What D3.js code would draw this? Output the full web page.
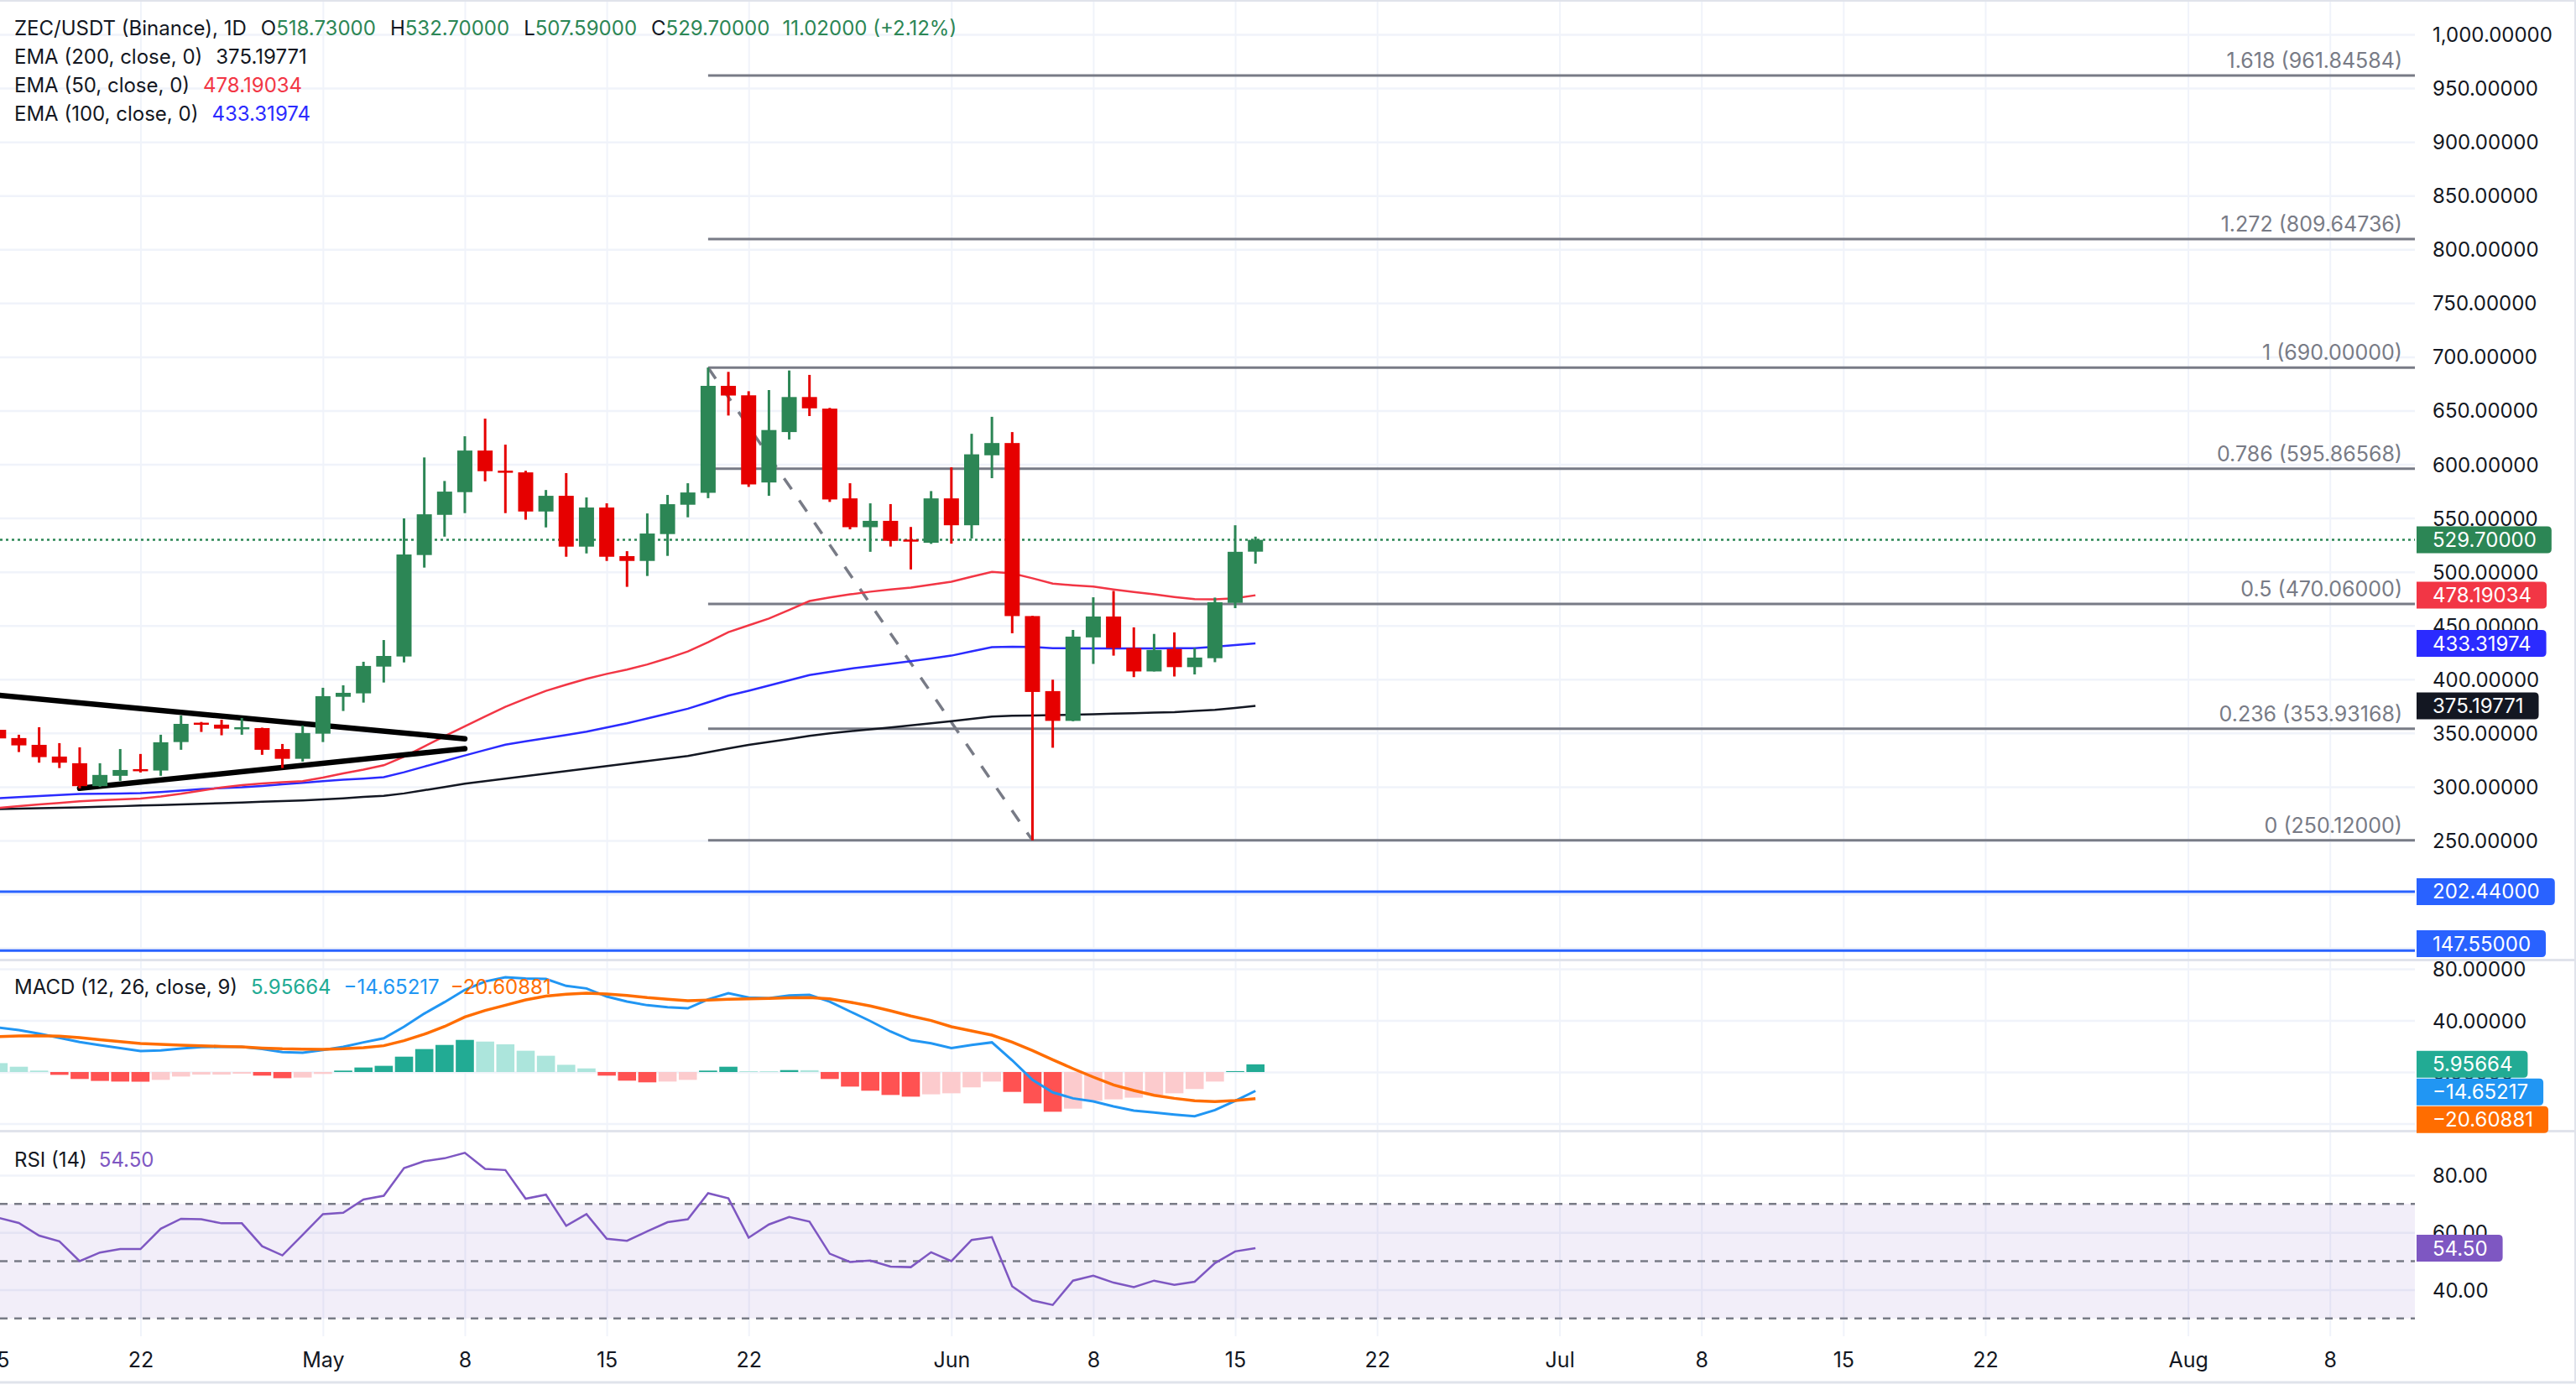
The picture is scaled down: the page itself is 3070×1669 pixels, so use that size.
<!DOCTYPE html>
<html>
<head>
<meta charset="utf-8">
<script src="https://cdn.jsdelivr.net/npm/d3@7"></script>
<style>
html, body { margin: 0; padding: 0; background: #fff; }
svg { display: block; font-family: Inter, "Noto Sans", sans-serif; }
</style>
</head>
<body>
<svg id="chart" width="3070" height="1669"></svg>
<script>
// ---- data ----
const dates = [
  '2025-04-15','2025-04-16','2025-04-17','2025-04-18','2025-04-19','2025-04-20','2025-04-21','2025-04-22','2025-04-23','2025-04-24',
  '2025-04-25','2025-04-26','2025-04-27','2025-04-28','2025-04-29','2025-04-30','2025-05-01','2025-05-02','2025-05-03','2025-05-04',
  '2025-05-05','2025-05-06','2025-05-07','2025-05-08','2025-05-09','2025-05-10','2025-05-11','2025-05-12','2025-05-13','2025-05-14',
  '2025-05-15','2025-05-16','2025-05-17','2025-05-18','2025-05-19','2025-05-20','2025-05-21','2025-05-22','2025-05-23','2025-05-24',
  '2025-05-25','2025-05-26','2025-05-27','2025-05-28','2025-05-29','2025-05-30','2025-05-31','2025-06-01','2025-06-02','2025-06-03',
  '2025-06-04','2025-06-05','2025-06-06','2025-06-07','2025-06-08','2025-06-09','2025-06-10','2025-06-11','2025-06-12','2025-06-13',
  '2025-06-14','2025-06-15','2025-06-16'
]
const opens = [
  353, 345.3, 339, 328.1, 321.9, 300.6, 310.2, 316.4, 315.1, 341.6,
  359.6, 357.8, 354.1, 354.6, 335.1, 326, 349.4, 383.7, 386.9, 411.8,
  421.2, 515.6, 553, 574.1, 612.8, 594.1, 592.5, 556.1, 570.7, 523.4,
  559.8, 514.6, 510.1, 535.1, 562.4, 573.5, 673, 664.2, 583.1, 630,
  662.6, 651.8, 568.3, 541.5, 547.4, 530, 527, 568.3, 543.3, 608.4,
  619.8, 458.8, 389, 361.3, 439, 458.4, 429.1, 407.3, 428.2, 411.3,
  419.6, 471.1, 518.73
]
const highs = [
  357, 348.4, 355.4, 340.6, 336.7, 321.9, 335.1, 330.5, 348.4, 366.3,
  360.3, 362.4, 364, 355, 339.8, 357, 392.1, 394.4, 416.3, 436.5,
  549.7, 606.4, 584.5, 626.1, 642.5, 618.3, 594, 576.1, 591.8, 569.2,
  563.7, 519.2, 554.3, 571.5, 582.4, 690, 686, 668, 669.1, 687.3,
  683.2, 652.5, 582.4, 563.7, 563, 541.7, 575.1, 597.2, 628.4, 644.2,
  630, 459, 399.6, 445.9, 476.3, 482.2, 448.3, 442.2, 443.6, 429,
  476, 543.3, 532.7
]
const lows = [
  340, 332.3, 322.4, 317.4, 298.5, 300, 305.5, 313.3, 310.2, 334.4,
  351, 347.9, 348.4, 329.7, 317.4, 323.4, 341.6, 370.5, 378.3, 397,
  415.7, 503.9, 532.7, 554.6, 584.2, 554.6, 548.5, 541.3, 514, 517.1,
  510.1, 486, 496.1, 514.8, 550.7, 568.5, 645.4, 579, 570.7, 623.1,
  644.9, 565, 539.5, 518.6, 523.5, 502.2, 526, 526.2, 531, 587.1,
  442.8, 250.12, 336.3, 361, 414.3, 422, 402, 407.3, 402.6, 404.5,
  415.9, 466.2, 507.59
]
const closes = [
  345, 338.5, 327.6, 322.4, 300.6, 311, 315.6, 314.9, 341.4, 358.5,
  358, 354.1, 355.4, 334.4, 326, 350, 384.3, 387.4, 412.4, 421.7,
  516.1, 553.5, 574.6, 612.8, 593.6, 592.3, 556.1, 570.7, 523.4, 559.8,
  514, 510.1, 535.6, 562.9, 573.8, 673, 664, 581.3, 631.9, 662.6,
  652.1, 567.3, 541.5, 547.4, 528.8, 528.8, 568.3, 543.3, 609.3, 619.8,
  458.8, 388.2, 361.3, 439.7, 458.4, 429.1, 407.3, 427.3, 411.3, 420.2,
  471.7, 518.6, 529.7
]
const ema50 = [
  280.3, 282, 283.5, 285, 286.5, 287.5, 288.3, 289, 291, 293.5,
  296.5, 299.3, 301.5, 303, 304.3, 305.2, 308.5, 312.5, 316, 320,
  328, 337.5, 347, 356.2, 365.5, 374.4, 382, 389.2, 395, 400.4,
  405, 409, 413.8, 419.5, 425.9, 434.5, 443.8, 450.2, 456.5, 464.5,
  472.8, 476.2, 479, 481.5, 483.5, 485.3, 488, 490.8, 495.5, 500,
  498.5, 494, 489, 487.5, 486.2, 483.5, 481.2, 479, 476.6, 474.5,
  474.3, 475.3, 478.19
]
const ema100 = [
  289.4, 290.4, 291.4, 292.4, 293.3, 293.5, 293.8, 294, 295, 296.4,
  297.8, 298.8, 299.5, 300.8, 302.3, 303.6, 305.2, 306.5, 307.6, 308.9,
  313.5, 318.8, 324, 329.1, 334.2, 339.2, 342.3, 345.2, 348.2, 351.3,
  355.2, 359.1, 363.5, 368, 372.6, 378.6, 384.8, 389.3, 394.2, 399.1,
  404, 406.9, 409.8, 412.2, 414.5, 416.8, 419.4, 422, 426, 429.8,
  430.3, 430, 428.9, 428.8, 428.8, 428.8, 428.8, 428.8, 428.9, 429,
  430.3, 431.8, 433.32
]
const ema200 = [
  279.2, 279.6, 280, 280.4, 280.9, 281.4, 281.9, 282.5, 283, 283.6,
  284.2, 284.8, 285.4, 286, 286.6, 287.3, 288.2, 289.3, 290.5, 291.6,
  293.8, 296.8, 299.8, 302.8, 305.2, 307.5, 309.9, 312.2, 314.6, 317,
  319.3, 321.6, 324, 326.2, 328.6, 332.2, 335.7, 338.9, 341.7, 344.5,
  347.4, 349.7, 351.6, 353.4, 355.2, 357.1, 359, 361, 363.2, 365.3,
  366, 366.3, 366.6, 367, 367.5, 368, 368.5, 369, 369.5, 370.5,
  371.6, 373.3, 375.2
]
const macdLine = [
  34.5, 32.5, 29.7, 26.5, 23.2, 20.8, 18.6, 16.3, 16.7, 18.2,
  19.3, 19.5, 19.5, 17.8, 15.4, 15, 17.1, 19.5, 23, 26.2,
  35.1, 45.3, 54.2, 63.7, 70.2, 73.5, 72.6, 72.2, 66.8, 64.8,
  58.5, 54.6, 51.8, 50.3, 49.4, 56.4, 61.1, 57.7, 57.2, 59.4,
  59.8, 54.6, 47, 39.5, 31.4, 24.7, 22.3, 18.6, 21, 23,
  9.1, -6.1, -15.8, -20.4, -22.8, -26.7, -29.9, -31.4, -33, -34.3,
  -29.5, -22.3, -14.65
]
const signalLine = [
  27.5, 28, 28.2, 27.8, 26.7, 25.1, 23.6, 22.1, 21.5, 20.8,
  20.4, 19.9, 19.5, 18.6, 18, 17.8, 17.6, 18, 18.9, 20.4,
  24.3, 29.3, 35.3, 42.7, 47.7, 51.8, 55.9, 58.8, 60.3, 61.1,
  60.5, 59.4, 57.7, 56.4, 55.3, 55.7, 56.4, 56.8, 57, 57.5,
  57.7, 56.8, 54.2, 51.2, 47.5, 43.4, 39.9, 35.1, 31.9, 28.6,
  23.2, 16.7, 9.5, 2.6, -3.9, -10, -14.3, -18, -20.4, -22.3,
  -23, -22.1, -20.61
]
const histogram = [
  6.9, 4.1, 1.1, -2.2, -5.4, -6.9, -7.4, -7.5, -6.1, -3.5,
  -2, -2, -1.3, -2.8, -4.8, -4.3, -1.5, 1.1, 3.5, 4.8,
  11.9, 17.8, 21, 24.9, 23.6, 21.5, 16.5, 12.6, 5.6, 2.8,
  -2.8, -6.7, -8, -7.4, -6.1, 1.1, 4.1, 0.65, 0.6, 1.5,
  1.4, -5.4, -11.3, -14.5, -17.8, -19.1, -17.3, -16.5, -11.9, -7.4,
  -15.4, -24.3, -30.8, -28.4, -22.3, -21.2, -19.9, -17.8, -16.5, -13.2,
  -7.4, 0.7, 5.96
]
const rsi = [
  65.1, 63.3, 58.9, 56.9, 50, 53, 54.2, 54.2, 61.3, 64.8,
  64.6, 63.2, 63.2, 55.2, 52, 59.2, 66.4, 66.9, 71.5, 72.8,
  82.5, 84.9, 85.9, 87.8, 82.2, 81.8, 71.8, 73.2, 62.3, 66.4,
  57.8, 57.1, 60.4, 63.6, 64.6, 73.7, 71.9, 58.2, 62.8, 65.4,
  63.8, 52.6, 49.7, 50.2, 48.1, 47.9, 53.1, 50, 57.4, 58.4,
  41.2, 36.3, 34.7, 43.2, 44.9, 42.5, 40.9, 43.2, 41.7, 42.8,
  49.3, 53.4, 54.5
]

const tickDates = ['2025-04-15','2025-04-22','2025-05-01','2025-05-08','2025-05-15','2025-05-22','2025-06-01','2025-06-08',
  '2025-06-15','2025-06-22','2025-07-01','2025-07-08','2025-07-15','2025-07-22','2025-08-01','2025-08-08']
const priceTicks = [150, 200, 250, 300, 350, 400, 450, 500, 550, 600, 650, 700, 750, 800, 850, 900, 950, 1000]
const macdTicks = [-40, 0, 40, 80]
const rsiTicks = [40, 60, 80]
const rsiBands = [30, 50, 70]

const fibLevels = ['0', '0.236', '0.5', '0.786', '1', '1.272', '1.618']
const fibPrices = [250.12, 353.93168, 470.06, 595.86568, 690, 809.64736, 961.84584]
const fibFrom = ['2025-05-20', 690]
const fibTo = ['2025-06-05', 250.12]
const trendUpper = [['2025-04-15', 385.1], ['2025-05-08', 344.7]]
const trendLower = [['2025-04-19', 298.5], ['2025-05-08', 335.4]]
const levelLines = [202.44, 147.55]
const lastPrice = 529.7

// ---- layout ----
const W = 3070
const plotW = 2878
const axisX = 2880
const main = [0, 1143]
const macdPane = [1146, 1347]
const rsiPane = [1350, 1593]

const col = {
  up: '#2c8655', down: '#e60000', grid: '#f0f3fa', sep: '#e0e3eb', text: '#131722', fib: '#787b86',
  e50: '#f23645', e100: '#2b2bff', e200: '#131722', level: '#2962ff',
  macd: '#2196f3', signal: '#ff6d00', hUp: '#22ab94', hUpL: '#ace5dc', hDn: '#ff5252', hDnL: '#fccbcd',
  rsi: '#7e57c2'
}

const parse = d3.utcParse('%Y-%m-%d')
const x = d3.scaleUtc().domain([parse('2025-04-15'), parse('2025-08-08')]).range([-1.7, 2776.7])
const yP = d3.scaleLinear().domain([250, 1000]).range([1002, 41])
const yM = d3.scaleLinear().domain([-40, 80]).range([1339.5, 1155])
const yR = d3.scaleLinear().domain([40, 80]).range([1537.6, 1401])

const bars = dates.map((d, i) => ({
  date: parse(d), o: opens[i], h: highs[i], l: lows[i], c: closes[i],
  e50: ema50[i], e100: ema100[i], e200: ema200[i],
  macd: macdLine[i], sig: signalLine[i], hist: histogram[i], rsi: rsi[i]
}))

const svg = d3.select('#chart')
svg.append('rect').attr('width', W).attr('height', 1669).attr('fill', '#fff')

const defs = svg.append('defs')
;[['clipMain', main], ['clipMacd', macdPane], ['clipRsi', rsiPane]].forEach(([id, p]) => {
  defs.append('clipPath').attr('id', id)
    .append('rect').attr('x', 0).attr('y', p[0]).attr('width', plotW).attr('height', p[1] - p[0])
})

// vertical grid in every pane
;[main, macdPane, rsiPane].forEach(p => {
  const g = svg.append('g').attr('transform', `translate(0,${p[0]})`)
    .call(d3.axisBottom(x).tickValues(tickDates.map(parse)).tickSize(p[1] - p[0]).tickFormat(''))
  g.select('.domain').remove()
  g.selectAll('line').attr('stroke', col.grid).attr('stroke-width', 2)
})

function hGrid(scale, ticks, clip) {
  const g = svg.append('g').attr('clip-path', `url(#${clip})`)
    .call(d3.axisLeft(scale).tickValues(ticks).tickSize(-plotW).tickFormat(''))
  g.select('.domain').remove()
  g.selectAll('line').attr('stroke', col.grid).attr('stroke-width', 2.5)
}
hGrid(yP, priceTicks, 'clipMain')
hGrid(yM, macdTicks, 'clipMacd')
hGrid(yR, rsiTicks, 'clipRsi')

// ---- main pane ----
const gMain = svg.append('g').attr('clip-path', 'url(#clipMain)')

// fibonacci levels
const fibX0 = x(parse(fibFrom[0]))
fibPrices.forEach((p, i) => {
  gMain.append('line')
    .attr('x1', fibX0).attr('x2', plotW)
    .attr('y1', yP(p)).attr('y2', yP(p))
    .attr('stroke', col.fib).attr('stroke-width', 3)
  gMain.append('text')
    .attr('x', plotW - 15).attr('y', yP(p) - 18)
    .attr('text-anchor', 'end').attr('dominant-baseline', 'central')
    .attr('font-size', 25).attr('fill', col.fib)
    .text(`${fibLevels[i]} (${d3.format('.5f')(p)})`)
})
gMain.append('line')
  .attr('x1', fibX0).attr('y1', yP(fibFrom[1]))
  .attr('x2', x(parse(fibTo[0]))).attr('y2', yP(fibTo[1]))
  .attr('stroke', col.fib).attr('stroke-width', 3.5).attr('stroke-dasharray', '16,16')

// horizontal levels
levelLines.forEach(v => {
  gMain.append('line')
    .attr('x1', 0).attr('x2', plotW).attr('y1', yP(v)).attr('y2', yP(v))
    .attr('stroke', col.level).attr('stroke-width', 3)
})
gMain.append('line')
  .attr('x1', 0).attr('x2', plotW).attr('y1', yP(lastPrice)).attr('y2', yP(lastPrice))
  .attr('stroke', col.up).attr('stroke-width', 2.5).attr('stroke-dasharray', '3,4')

// EMAs
;[['e200', col.e200], ['e100', col.e100], ['e50', col.e50]].forEach(([k, c]) => {
  gMain.append('path')
    .datum(bars)
    .attr('fill', 'none').attr('stroke', c).attr('stroke-width', 2.5)
    .attr('d', d3.line().x(d => x(d.date)).y(d => yP(d[k])))
})

// trendlines
;[trendUpper, trendLower].forEach(t => {
  gMain.append('path')
    .datum(t)
    .attr('fill', 'none').attr('stroke', '#000').attr('stroke-width', 6.5).attr('stroke-linecap', 'round')
    .attr('d', d3.line().x(d => x(parse(d[0]))).y(d => yP(d[1])))
})

// candles
const candle = gMain.selectAll('g.candle').data(bars).join('g').attr('class', 'candle')
candle.append('line')
  .attr('x1', d => x(d.date)).attr('x2', d => x(d.date))
  .attr('y1', d => yP(d.h)).attr('y2', d => yP(d.l))
  .attr('stroke', d => d.c >= d.o ? col.up : col.down).attr('stroke-width', 3)
candle.append('rect')
  .attr('x', d => x(d.date) - 9).attr('width', 18)
  .attr('y', d => yP(Math.max(d.o, d.c)))
  .attr('height', d => Math.max(2.5, Math.abs(yP(d.o) - yP(d.c))))
  .attr('fill', d => d.c >= d.o ? col.up : col.down)

// ---- MACD pane ----
const gMacd = svg.append('g').attr('clip-path', 'url(#clipMacd)')
gMacd.selectAll('rect').data(bars).join('rect')
  .attr('x', d => x(d.date) - 10.8).attr('width', 21.6)
  .attr('y', d => Math.min(yM(0), yM(d.hist)))
  .attr('height', d => Math.abs(yM(0) - yM(d.hist)))
  .attr('fill', (d, i) => {
    const prev = i ? histogram[i - 1] : Infinity
    if (d.hist >= 0) return d.hist >= prev ? col.hUp : col.hUpL
    return d.hist < prev ? col.hDn : col.hDnL
  })
gMacd.append('path').datum(bars)
  .attr('fill', 'none').attr('stroke', col.macd).attr('stroke-width', 3)
  .attr('d', d3.line().x(d => x(d.date)).y(d => yM(d.macd)))
gMacd.append('path').datum(bars)
  .attr('fill', 'none').attr('stroke', col.signal).attr('stroke-width', 3.5)
  .attr('d', d3.line().x(d => x(d.date)).y(d => yM(d.sig)))

// ---- RSI pane ----
const gRsi = svg.append('g').attr('clip-path', 'url(#clipRsi)')
gRsi.append('rect')
  .attr('x', 0).attr('width', plotW)
  .attr('y', yR(70)).attr('height', yR(30) - yR(70))
  .attr('fill', 'rgba(126,87,194,0.1)')
rsiBands.forEach(v => {
  gRsi.append('line')
    .attr('x1', 0).attr('x2', plotW).attr('y1', yR(v)).attr('y2', yR(v))
    .attr('stroke', col.fib).attr('stroke-width', 2.5).attr('stroke-dasharray', '9,8')
})
gRsi.append('path').datum(bars)
  .attr('fill', 'none').attr('stroke', col.rsi).attr('stroke-width', 2.5)
  .attr('d', d3.line().x(d => x(d.date)).y(d => yR(d.rsi)))

// ---- axes ----
function priceAxis(scale, ticks, fmt, clipTop, clipBottom) {
  const g = svg.append('g').attr('transform', `translate(${axisX},0)`)
    .call(d3.axisRight(scale).tickValues(ticks).tickSize(0).tickPadding(19).tickFormat(fmt))
  g.select('.domain').remove()
  g.selectAll('text')
    .attr('font-family', 'Inter, sans-serif').attr('font-size', 24).attr('fill', col.text)
    .attr('dy', null).attr('dominant-baseline', 'central')
  g.selectAll('.tick').filter(d => scale(d) < clipTop + 8 || scale(d) > clipBottom - 4).remove()
}
priceAxis(yP, priceTicks, d3.format(',.5f'), main[0], main[1])
priceAxis(yM, macdTicks, d3.format('.5f'), macdPane[0], macdPane[1])
priceAxis(yR, rsiTicks, d3.format('.2f'), rsiPane[0], rsiPane[1])

const xAxis = svg.append('g').attr('transform', `translate(0,${rsiPane[1]})`)
  .call(d3.axisBottom(x).tickValues(tickDates.map(parse)).tickSize(0).tickPadding(19)
    .tickFormat(d => d.getUTCDate() === 1 ? d3.utcFormat('%b')(d) : d3.utcFormat('%-d')(d)))
xAxis.select('.domain').remove()
xAxis.selectAll('text').attr('font-family', 'Inter, sans-serif').attr('font-size', 25).attr('fill', col.text)

// separators and frame
;[1144.5, 1348.5].forEach(yy => {
  svg.append('line').attr('x1', 0).attr('x2', W).attr('y1', yy).attr('y2', yy)
    .attr('stroke', col.sep).attr('stroke-width', 3)
})
svg.append('line').attr('x1', 0).attr('x2', W).attr('y1', 1).attr('y2', 1).attr('stroke', col.sep).attr('stroke-width', 2)
svg.append('line').attr('x1', 0).attr('x2', W).attr('y1', 1648).attr('y2', 1648).attr('stroke', col.sep).attr('stroke-width', 3)
svg.append('line').attr('x1', W - 1).attr('x2', W - 1).attr('y1', 0).attr('y2', 1648).attr('stroke', col.sep).attr('stroke-width', 2)

// ---- price badges ----
function badges(items, maxY) {
  let last = -Infinity
  items.sort((a, b) => a.y - b.y).forEach(b => {
    let cy = Math.max(b.y, last + 33)
    cy = Math.min(cy, maxY)
    last = cy
    const g = svg.append('g')
    const t = g.append('text')
      .attr('x', axisX + 19).attr('y', cy)
      .attr('dominant-baseline', 'central')
      .attr('font-size', 24).attr('fill', '#fff')
      .text(b.text)
    const w = t.node().getComputedTextLength() + 37
    const x0 = axisX, x1 = axisX + w, y0 = cy - 16, y1 = cy + 16, r = 5
    g.insert('path', 'text')
      .attr('d', `M${x0},${y0}H${x1 - r}Q${x1},${y0} ${x1},${y0 + r}V${y1 - r}Q${x1},${y1} ${x1 - r},${y1}H${x0}Z`)
      .attr('fill', b.fill)
  })
}
const f5 = d3.format('.5f')
badges([
  { y: yP(lastPrice), text: f5(lastPrice), fill: col.up },
  { y: yP(ema50[ema50.length - 1]), text: '478.19034', fill: col.e50 },
  { y: yP(ema100[ema100.length - 1]), text: '433.31974', fill: col.e100 },
  { y: yP(ema200[ema200.length - 1]), text: '375.19771', fill: col.e200 },
  { y: yP(levelLines[0]), text: f5(levelLines[0]), fill: col.level },
  { y: yP(levelLines[1]), text: f5(levelLines[1]), fill: col.level }
], main[1] - 18)
badges([
  { y: yM(histogram[histogram.length - 1]), text: '5.95664', fill: col.hUp },
  { y: yM(macdLine[macdLine.length - 1]), text: '\u221214.65217', fill: col.macd },
  { y: yM(signalLine[signalLine.length - 1]), text: '\u221220.60881', fill: col.signal }
], macdPane[1] - 12)
badges([
  { y: yR(rsi[rsi.length - 1]), text: '54.50', fill: col.rsi }
], rsiPane[1] - 18)

// ---- legends ----
function legend(y, parts) {
  const t = svg.append('text')
    .attr('x', 17).attr('y', y)
    .attr('dominant-baseline', 'central')
    .attr('font-size', 24)
  parts.forEach(p => {
    t.append('tspan').attr('dx', p.dx || 0).attr('fill', p.fill || col.text).text(p.text)
  })
}
legend(33, [
  { text: 'ZEC/USDT (Binance), 1D' },
  { text: 'O', dx: 17 }, { text: '518.73000', fill: col.up },
  { text: 'H', dx: 17 }, { text: '532.70000', fill: col.up },
  { text: 'L', dx: 17 }, { text: '507.59000', fill: col.up },
  { text: 'C', dx: 17 }, { text: '529.70000', fill: col.up },
  { text: '11.02000 (+2.12%)', dx: 15, fill: col.up }
])
legend(67, [{ text: 'EMA (200, close, 0)' }, { text: '375.19771', dx: 16, fill: col.e200 }])
legend(101, [{ text: 'EMA (50, close, 0)' }, { text: '478.19034', dx: 16, fill: col.e50 }])
legend(135, [{ text: 'EMA (100, close, 0)' }, { text: '433.31974', dx: 16, fill: col.e100 }])
legend(1176, [
  { text: 'MACD (12, 26, close, 9)' },
  { text: '5.95664', dx: 16, fill: col.hUp },
  { text: '\u221214.65217', dx: 15, fill: col.macd },
  { text: '\u221220.60881', dx: 13, fill: col.signal }
])
legend(1382, [{ text: 'RSI (14)' }, { text: '54.50', dx: 14, fill: col.rsi }])
</script>
</body>
</html>
